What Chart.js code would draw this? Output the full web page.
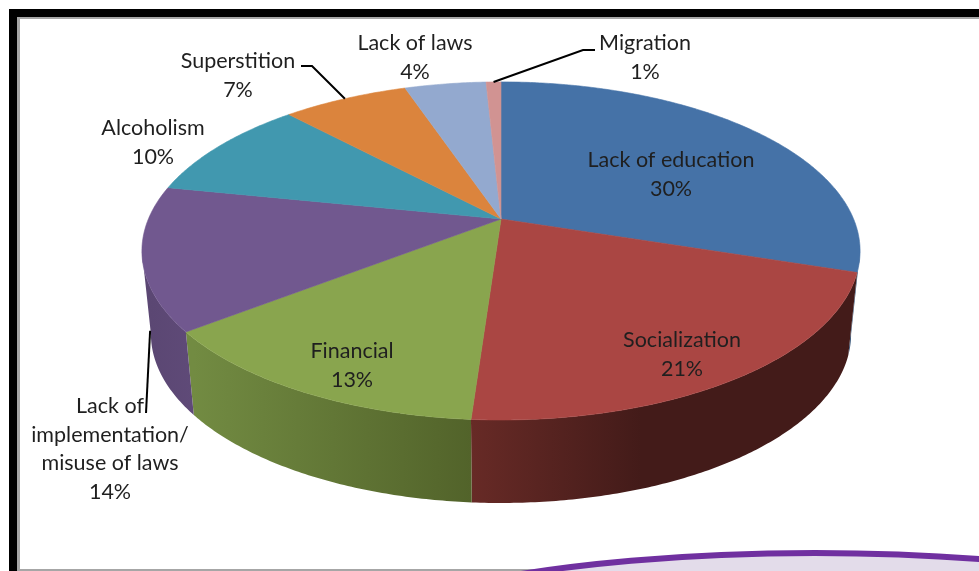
<!DOCTYPE html>
<html lang="en">
<head>
    <meta charset="UTF-8">
    <title>Reasons</title>
    <script src="https://cdn.jsdelivr.net/npm/chart.js"></script>
    <style>
        html, body { margin: 0; padding: 0; background: #fff; overflow: hidden; }
        canvas { display: block; }
    </style>
</head>
<body>

    <canvas id="myChart" width="979" height="571"></canvas>

    <script>
        const categories = [
            ["Lack of education"],
            ["Socialization"],
            ["Financial"],
            ["Lack of", "implementation/", "misuse of laws"],
            ["Alcoholism"],
            ["Superstition"],
            ["Lack of laws"],
            ["Migration"]
        ];
        // read from the slice edges, the labels show them rounded
        const values = [30, 21.1, 13.4, 13.7, 9.8, 6.8, 4.4, 0.8];
        const colors = ["#4572a7", "#aa4643", "#89a54e", "#71588f", "#4198af", "#db843d", "#93a9cf", "#d19392"];

        // side wall shades, left to right
        const wallColors = [
            ["#2f4e72", "#2f4e72"],
            ["#672a26", "#431b19"],
            ["#728b42", "#52632a"],
            ["#5b4773", "#5f4a78"]
        ];

        // label centres, placed by hand as in the original
        const labelX = [671, 682, 352, 110, 153, 238, 415, 645];
        const labelY = [160, 340, 351, 406, 128, 61, 43, 43];

        // leader lines: slice index, elbow points from the label side, how far down the wall they end
        const leaders = [
            { slice: 3, wall: 0.88, from: [[146, 413]] },
            { slice: 5, wall: 0, from: [[301, 66], [312, 66]] },
            { slice: 7, wall: 0, from: [[595, 50], [583, 50]] }
        ];

        // perspective of the disc
        const apexX = 501, apexY = 219;
        const discA = 352.6, discB = 163, discK = -0.189;
        const depth = 83, lowerScale = 0.975;
        const wallFrom = 10.9 * Math.PI / 180, wallTo = 169.1 * Math.PI / 180;

        function topPoint(a) {
            const u = Math.cos(a), v = Math.sin(a);
            const w = 1 + discK * v;
            return [apexX + discA * u / w, apexY + discB * v / w];
        }

        function lowerPoint(a) {
            const u = Math.cos(a), v = Math.sin(a);
            const w = 1 + discK * v;
            return [apexX + lowerScale * discA * u / w, apexY + discB * v / w + depth];
        }

        function rim(ctx, pointFn, start, end) {
            const steps = Math.max(2, Math.ceil(Math.abs(end - start) / 0.01));
            for (let i = 0; i <= steps; i++) {
                const p = pointFn(start + (end - start) * i / steps);
                ctx.lineTo(p[0], p[1]);
            }
        }

        function drawFrame(ctx) {
            ctx.fillStyle = "#000";
            ctx.fillRect(9, 9, 970, 8);
            ctx.fillRect(9, 9, 8, 562);
            ctx.fillStyle = "#a6a6a6";
            ctx.fillRect(17, 17, 962, 2);
            ctx.fillRect(17, 17, 3, 554);
            ctx.fillRect(17, 569, 962, 2);
        }

        function drawBlob(ctx) {
            ctx.beginPath();
            ctx.ellipse(815, 663, 500, 110, 0, 0, Math.PI * 2);
            ctx.fillStyle = "#e3dcea";
            ctx.fill();
            ctx.lineWidth = 6;
            ctx.strokeStyle = "#7030a0";
            ctx.stroke();
        }

        function drawWalls(ctx, arcs) {
            arcs.forEach((arc, i) => {
                const start = Math.max(arc.startAngle, wallFrom);
                const end = Math.min(arc.endAngle, wallTo);
                if (end <= start) return;
                const right = lowerPoint(start)[0];
                const left = lowerPoint(end)[0];
                const grad = ctx.createLinearGradient(left, 0, right, 0);
                grad.addColorStop(0, wallColors[i][0]);
                grad.addColorStop(i === 1 ? 0.45 : 1, wallColors[i][1]);
                if (i === 1) grad.addColorStop(1, wallColors[i][1]);
                ctx.beginPath();
                rim(ctx, topPoint, start, end);
                rim(ctx, lowerPoint, end, start);
                ctx.closePath();
                ctx.fillStyle = grad;
                ctx.fill();
            });
        }

        function drawTop(ctx, arcs) {
            arcs.forEach((arc, i) => {
                ctx.beginPath();
                ctx.moveTo(apexX, apexY);
                rim(ctx, topPoint, arc.startAngle, arc.endAngle);
                ctx.closePath();
                ctx.fillStyle = colors[i];
                ctx.strokeStyle = colors[i];
                ctx.lineWidth = 0.6;
                ctx.fill();
                ctx.stroke();
            });
        }

        function drawLeaders(ctx, arcs) {
            ctx.strokeStyle = "#000";
            ctx.lineWidth = 2;
            leaders.forEach(l => {
                const arc = arcs[l.slice];
                const mid = (arc.startAngle + arc.endAngle) / 2;
                const a = topPoint(mid), b = lowerPoint(mid);
                ctx.beginPath();
                l.from.forEach(p => ctx.lineTo(p[0], p[1]));
                ctx.lineTo(a[0] + (b[0] - a[0]) * l.wall, a[1] + (b[1] - a[1]) * l.wall);
                ctx.stroke();
            });
        }

        function drawLabels(ctx) {
            ctx.fillStyle = "#1f1f1f";
            ctx.font = "21.5px Lato";
            ctx.textAlign = "center";
            ctx.textBaseline = "middle";
            categories.forEach((lines, i) => {
                const text = lines.concat([Math.round(values[i]) + "%"]);
                text.forEach((t, j) => ctx.fillText(t, labelX[i], labelY[i] + j * 28.6));
            });
        }

        const pie3d = {
            id: "pie3d",
            beforeDatasetDraw(chart) {
                const ctx = chart.ctx;
                const arcs = chart.getDatasetMeta(0).data;
                ctx.save();
                drawFrame(ctx);
                drawBlob(ctx);
                drawWalls(ctx, arcs);
                drawTop(ctx, arcs);
                drawLeaders(ctx, arcs);
                drawLabels(ctx);
                ctx.restore();
                return false;
            }
        };

        new Chart(document.getElementById("myChart").getContext("2d"), {
            type: "pie",
            data: {
                labels: categories,
                datasets: [{ data: values, backgroundColor: colors, borderWidth: 0 }]
            },
            options: {
                responsive: false,
                animation: false,
                plugins: { legend: { display: false }, tooltip: { enabled: false } }
            },
            plugins: [pie3d]
        });
    </script>

</body>
</html>
